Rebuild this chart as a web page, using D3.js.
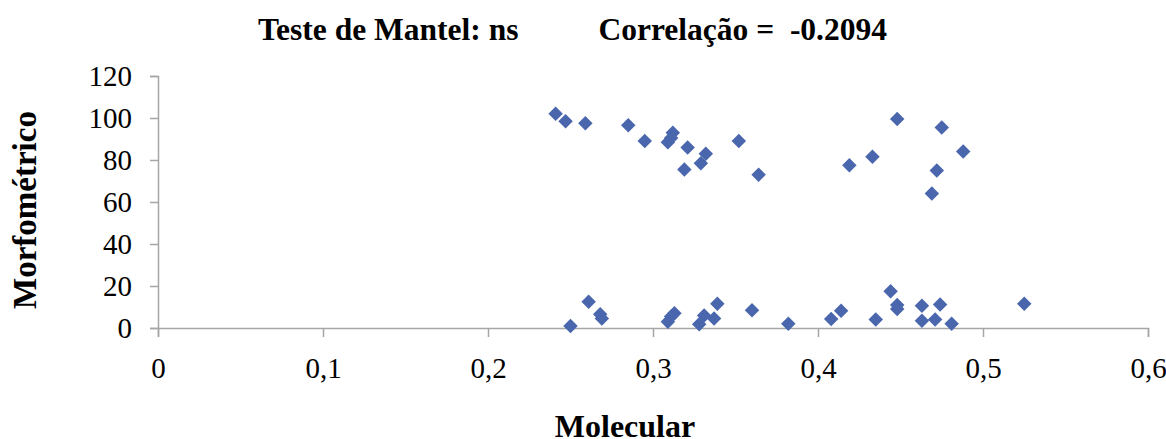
<!DOCTYPE html>
<html>
<head>
<meta charset="utf-8">
<script src="https://cdn.jsdelivr.net/npm/d3@7"></script>
<style>
  body { margin: 0; background: #fff; }
  text { font-family: "Liberation Serif", "Times New Roman", serif; }
</style>
</head>
<body>
<script>
// values
var molecular = [
    0.241, 0.247, 0.259, 0.285, 0.295, 0.312, 0.309, 0.311, 0.321, 0.319, 0.332, 0.329, 0.352, 0.364,
    0.448, 0.475, 0.488, 0.433, 0.419, 0.472, 0.469,
    0.250, 0.261, 0.268, 0.269, 0.309, 0.313, 0.311, 0.328, 0.331, 0.337, 0.339, 0.360, 0.382,
    0.408, 0.414, 0.435, 0.444, 0.448, 0.448, 0.463, 0.463, 0.471, 0.474, 0.481, 0.525
];
var morfometrico = [
    102, 98.5, 97.5, 96.5, 89, 93, 88.5, 90.5, 86, 75.5, 83, 78.5, 89, 73,
    99.5, 95.5, 84, 81.5, 77.5, 75, 64,
    1, 12.5, 6.5, 4.5, 3, 7, 5.5, 1.8, 6, 4.5, 11.5, 8.5, 2,
    4.3, 8.2, 4.1, 17.5, 11, 9, 10.6, 3.5, 4, 11.2, 2, 11.5
];
var xTicks = [0, 0.1, 0.2, 0.3, 0.4, 0.5, 0.6];
var yTicks = [0, 20, 40, 60, 80, 100, 120];

var w = 1166, h = 439;
var plotLeft = 158, plotRight = 1148, plotTop = 76, plotBottom = 328;

var svg = d3.select("body").append("svg")
    .attr("width", w)
    .attr("height", h);

var x = d3.scaleLinear().domain([0, 0.6]).range([plotLeft, plotRight]);
var y = d3.scaleLinear().domain([0, 120]).range([plotBottom, plotTop]);

//x axis
var xAxis = svg.append("g")
    .attr("transform", "translate(0," + plotBottom + ")")
    .call(d3.axisBottom(x).tickValues(xTicks).tickSize(9).tickPadding(20)
        .tickFormat(function(d){ return String(d).replace(".", ","); }));

//y axis
var yAxis = svg.append("g")
    .attr("transform", "translate(" + plotLeft + ",0)")
    .call(d3.axisLeft(y).tickValues(yTicks).tickSize(8).tickPadding(18));

[xAxis, yAxis].forEach(function(a){
    a.select(".domain").attr("stroke", "#a6a6a6").attr("stroke-width", 1.5);
    a.selectAll(".tick line").attr("stroke", "#a6a6a6").attr("stroke-width", 1.5);
    a.selectAll(".tick text")
        .attr("fill", "#000")
        .style("font-size", "29px")
        .style("font-family", "'Liberation Serif', serif");
});

//points
var pts = molecular.map(function(m, i){ return {x: m, y: morfometrico[i]}; });
svg.selectAll(".pt")
    .data(pts)
    .enter()
    .append("path")
    .attr("class", "pt")
    .attr("d", d3.symbol(d3.symbolSquare, 105))
    .attr("transform", function(d){
        return "translate(" + x(d.x) + "," + y(d.y) + ") rotate(45)";
    })
    .attr("fill", "#4A67AE");

//title
svg.append("text")
    .attr("x", 258).attr("y", 40)
    .style("font-size", "31.5px").style("font-weight", "bold")
    .text("Teste de Mantel: ns");
svg.append("text")
    .attr("x", 887).attr("y", 40)
    .attr("text-anchor", "end")
    .attr("xml:space", "preserve")
    .style("font-size", "31.5px").style("font-weight", "bold")
    .text("Correlação =  -0.2094");

//axis titles
svg.append("text")
    .attr("x", 625).attr("y", 437)
    .attr("text-anchor", "middle")
    .style("font-size", "32px").style("font-weight", "bold")
    .text("Molecular");
svg.append("text")
    .attr("transform", "translate(36,210) rotate(-90)")
    .attr("text-anchor", "middle")
    .style("font-size", "33px").style("font-weight", "bold")
    .text("Morfométrico");
</script>
</body>
</html>
